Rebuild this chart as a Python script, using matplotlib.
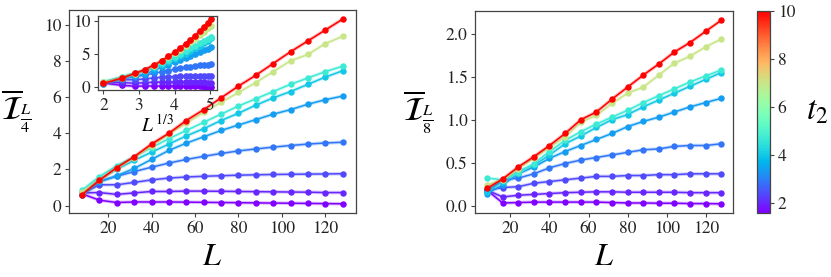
import matplotlib

matplotlib.use("Agg")
import matplotlib.pyplot as plt
import numpy as np
from matplotlib.cm import ScalarMappable
from matplotlib.colors import Normalize

plt.rcParams["font.family"] = ["STIXGeneral", "DejaVu Serif"]
plt.rcParams["mathtext.fontset"] = "stix"

# system sizes and hopping values (one curve per t2)
L_vals = [8, 16, 24, 32, 40, 48, 56, 64, 72, 80, 88, 96, 104, 112, 120, 128]
t2_vals = [1.6, 2.0, 2.4, 2.9, 3.4, 4.0, 4.7, 7.0, 10.0]

# mutual information for subsystem L/4 (left panel)
I4_t16 = [0.65, 0.30, 0.17, 0.20, 0.20, 0.20, 0.19, 0.18, 0.17, 0.16, 0.15, 0.14, 0.13, 0.12, 0.11, 0.10]
I4_t20 = [0.70, 0.72, 0.62, 0.70, 0.78, 0.78, 0.80, 0.80, 0.79, 0.78, 0.77, 0.76, 0.75, 0.74, 0.72, 0.72]
I4_t24 = [0.65, 1.15, 1.15, 1.28, 1.42, 1.52, 1.58, 1.62, 1.65, 1.68, 1.70, 1.72, 1.73, 1.74, 1.75, 1.76]
I4_t29 = [0.60, 1.35, 1.62, 1.88, 2.12, 2.35, 2.55, 2.72, 2.88, 3.02, 3.13, 3.23, 3.32, 3.40, 3.46, 3.50]
I4_t34 = [0.57, 1.30, 1.65, 2.05, 2.55, 3.05, 3.45, 3.80, 4.15, 4.45, 4.75, 5.05, 5.30, 5.60, 5.85, 6.05]
I4_t40 = [0.70, 1.45, 2.00, 2.50, 2.95, 3.40, 3.85, 4.25, 4.70, 5.10, 5.55, 5.95, 6.30, 6.70, 7.10, 7.45]
I4_t47 = [0.85, 1.60, 2.20, 2.70, 3.20, 3.70, 4.15, 4.60, 5.05, 5.50, 5.90, 6.30, 6.70, 7.05, 7.40, 7.70]
I4_t70 = [0.75, 1.40, 2.05, 2.65, 3.30, 3.95, 4.55, 5.15, 5.70, 6.25, 6.80, 7.40, 8.00, 8.35, 8.95, 9.35]
I4_t100 = [0.60, 1.40, 2.10, 2.70, 3.40, 4.00, 4.70, 5.30, 5.95, 6.60, 7.20, 7.85, 8.50, 9.10, 9.70, 10.30]

# mutual information for subsystem L/8 (right panel)
I8_t16 = [0.18, 0.03, 0.035, 0.04, 0.04, 0.04, 0.04, 0.04, 0.035, 0.03, 0.03, 0.027, 0.027, 0.023, 0.023, 0.02]
I8_t20 = [0.18, 0.10, 0.12, 0.13, 0.14, 0.15, 0.155, 0.16, 0.16, 0.155, 0.155, 0.155, 0.155, 0.15, 0.15, 0.15]
I8_t24 = [0.18, 0.21, 0.22, 0.26, 0.28, 0.30, 0.32, 0.34, 0.34, 0.35, 0.35, 0.36, 0.36, 0.37, 0.37, 0.37]
I8_t29 = [0.17, 0.30, 0.32, 0.37, 0.44, 0.49, 0.53, 0.56, 0.59, 0.62, 0.65, 0.66, 0.69, 0.70, 0.70, 0.72]
I8_t34 = [0.14, 0.24, 0.37, 0.45, 0.55, 0.63, 0.70, 0.77, 0.84, 0.92, 0.98, 1.03, 1.09, 1.15, 1.20, 1.25]
I8_t40 = [0.16, 0.28, 0.40, 0.47, 0.59, 0.72, 0.81, 0.91, 1.00, 1.06, 1.15, 1.23, 1.31, 1.39, 1.47, 1.55]
I8_t47 = [0.32, 0.30, 0.38, 0.49, 0.63, 0.76, 0.86, 0.95, 1.03, 1.11, 1.20, 1.28, 1.36, 1.44, 1.51, 1.58]
I8_t70 = [0.24, 0.30, 0.43, 0.55, 0.68, 0.80, 0.97, 1.05, 1.19, 1.31, 1.38, 1.52, 1.66, 1.74, 1.85, 1.94]
I8_t100 = [0.20, 0.31, 0.45, 0.57, 0.70, 0.84, 1.00, 1.09, 1.24, 1.38, 1.52, 1.65, 1.79, 1.90, 2.03, 2.16]

I4_curves = [I4_t16, I4_t20, I4_t24, I4_t29, I4_t34, I4_t40, I4_t47, I4_t70, I4_t100]
I8_curves = [I8_t16, I8_t20, I8_t24, I8_t29, I8_t34, I8_t40, I8_t47, I8_t70, I8_t100]

T2_MIN, T2_MAX = 1.6, 10.0
cmap = plt.get_cmap("rainbow")
norm = Normalize(vmin=T2_MIN, vmax=T2_MAX)
SPINE = "#444444"


def draw_curves(ax, x, curves, ms=3.6):
    for t2, y in zip(t2_vals, curves):
        c = cmap(norm(t2))
        # faint halo standing in for the error band
        ax.plot(x, y, color=c, lw=2.6, alpha=0.25, solid_capstyle="round")
        ax.plot(x, y, color=c, lw=1.1, marker="o", ms=ms, mec=c, mfc=c)


def style(ax, size=12.5):
    for s in ax.spines.values():
        s.set_color(SPINE)
        s.set_linewidth(0.9)
    ax.tick_params(direction="out", length=3, width=0.8, colors=SPINE,
                   labelcolor="#222222", labelsize=size, pad=2.5)


fig = plt.figure(figsize=(8.31, 2.77), dpi=100)

ax1 = fig.add_axes([0.083, 0.231, 0.345, 0.733])
ax2 = fig.add_axes([0.572, 0.231, 0.310, 0.729])
cax = fig.add_axes([0.911, 0.231, 0.0156, 0.729])
ins = fig.add_axes([0.118, 0.675, 0.143, 0.267])

L = np.array(L_vals)

draw_curves(ax1, L, I4_curves)
style(ax1)
ax1.set_xticks([20, 40, 60, 80, 100, 120])
ax1.set_yticks([0, 2, 4, 6, 8, 10])
ax1.set_xlabel(r"$L$", fontsize=23, labelpad=4)
ax1.set_ylabel(r"$\overline{\mathcal{I}}_{\frac{L}{4}}$", fontsize=24,
               rotation=0, labelpad=20, va="center")

draw_curves(ins, L ** (1 / 3), I4_curves, ms=3.8)
style(ins, size=12.5)
ins.set_xticks([2, 3, 4, 5])
ins.set_yticks([0, 5, 10])
ins.set_xlabel(r"$L^{\,1/3}$", fontsize=14, labelpad=0)

draw_curves(ax2, L, I8_curves)
style(ax2)
ax2.set_xticks([20, 40, 60, 80, 100, 120])
ax2.set_yticks([0.0, 0.5, 1.0, 1.5, 2.0])
ax2.set_xlabel(r"$L$", fontsize=23, labelpad=4)
ax2.set_ylabel(r"$\overline{\mathcal{I}}_{\frac{L}{8}}$", fontsize=24,
               rotation=0, labelpad=20, va="center")

sm = ScalarMappable(norm=norm, cmap=cmap)
cb = fig.colorbar(sm, cax=cax, ticks=[2, 4, 6, 8, 10])
cb.outline.set_edgecolor(SPINE)
cb.outline.set_linewidth(0.9)
cax.tick_params(direction="out", length=3, width=0.8, colors=SPINE,
                labelcolor="#222222", labelsize=12.5, pad=2.5)
cb.set_label(r"$t_2$", fontsize=24, rotation=0, labelpad=16, va="center")

fig.savefig("out.png", dpi=100)
